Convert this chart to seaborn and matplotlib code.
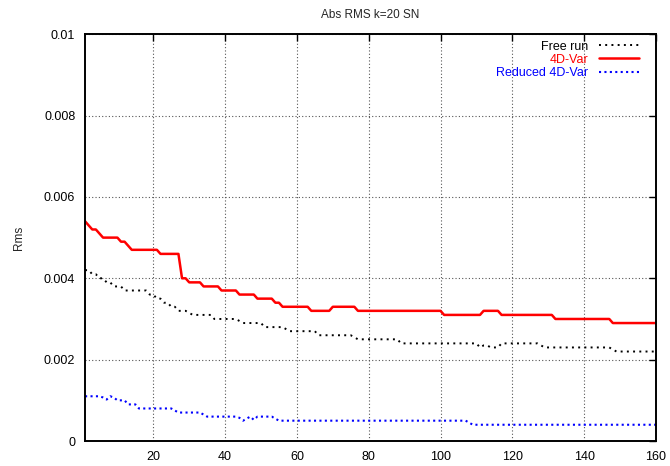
import numpy as np
import pandas as pd
import seaborn as sns
import matplotlib
matplotlib.use("Agg")
import matplotlib.pyplot as plt

# time index
steps = np.arange(1, 161)

# rms values, in units of 1e-4
free_run = [
    42, 42, 41, 41, 40, 40, 39, 39, 38, 38,
    38, 37, 37, 37, 37, 37, 37, 37, 36, 36,
    35, 35, 34, 34, 33, 33, 32, 32, 32, 31.5,
    31, 31, 31, 31, 31, 31, 30, 30, 30, 30,
    30, 30, 30, 29.5, 29, 29, 29, 29, 29, 29,
    28, 28, 28, 28, 28, 28, 27.5, 27, 27, 27,
    27, 27, 27, 27, 27, 26, 26, 26, 26, 26,
    26, 26, 26, 26, 26, 25.5, 25, 25, 25, 25,
    25, 25, 25, 25, 25, 25, 25, 25, 24, 24,
    24, 24, 24, 24, 24, 24, 24, 24, 24, 24,
    24, 24, 24, 24, 24, 24, 24, 24, 24, 24,
    23, 23.5, 23.5, 23, 23, 23, 24, 24, 24, 24,
    24, 24, 24, 24, 24, 24, 24, 23.5, 23, 23,
    23, 23, 23, 23, 23, 23, 23, 23, 23, 23,
    23, 23, 23, 23, 23, 23, 23, 22.5, 22, 22,
    22, 22, 22, 22, 22, 22, 22, 22, 22, 22,
]
var4d = [
    54, 53, 52, 52, 51, 50, 50, 50, 50, 50,
    49, 49, 48, 47, 47, 47, 47, 47, 47, 47,
    47, 46, 46, 46, 46, 46, 46, 40, 40, 39,
    39, 39, 39, 38, 38, 38, 38, 38, 37, 37,
    37, 37, 37, 36, 36, 36, 36, 36, 35, 35,
    35, 35, 35, 34, 34, 33, 33, 33, 33, 33,
    33, 33, 33, 32, 32, 32, 32, 32, 32, 33,
    33, 33, 33, 33, 33, 33, 32, 32, 32, 32,
    32, 32, 32, 32, 32, 32, 32, 32, 32, 32,
    32, 32, 32, 32, 32, 32, 32, 32, 32, 32,
    31, 31, 31, 31, 31, 31, 31, 31, 31, 31,
    31, 32, 32, 32, 32, 32, 31, 31, 31, 31,
    31, 31, 31, 31, 31, 31, 31, 31, 31, 31,
    31, 30, 30, 30, 30, 30, 30, 30, 30, 30,
    30, 30, 30, 30, 30, 30, 30, 29, 29, 29,
    29, 29, 29, 29, 29, 29, 29, 29, 29, 29,
]
reduced_4dvar = [
    11, 11, 11, 11, 11, 10.7, 10.2, 11, 10.7, 10,
    10, 10, 9, 9, 9, 8, 8, 8, 8, 8,
    8, 8, 8, 8, 8, 7.5, 7, 7, 7, 7,
    7, 7, 7, 6.5, 6, 6, 6, 6, 6, 6,
    6, 6, 6, 5.7, 5, 5.5, 6, 5.2, 6, 6,
    6, 6, 6, 5.5, 5, 5, 5, 5, 5, 5,
    5, 5, 5, 5, 5, 5, 5, 5, 5, 5,
    5, 5, 5, 5, 5, 5, 5, 5, 5, 5,
    5, 5, 5, 5, 5, 5, 5, 5, 5, 5,
    5, 5, 5, 5, 5, 5, 5, 5, 5, 5,
    5, 5, 5, 5, 5, 5, 5, 4.5, 4, 4,
    4, 4, 4, 4, 4, 4, 4, 4, 4, 4,
    4, 4, 4, 4, 4, 4, 4, 4, 4, 4,
    4, 4, 4, 4, 4, 4, 4, 4, 4, 4,
    4, 4, 4, 4, 4, 4, 4, 4, 4, 4,
    4, 4, 4, 4, 4, 4, 4, 4, 4, 4,
]

df = pd.DataFrame({
    "step": steps,
    "Free run": np.array(free_run) * 1e-4,
    "4D-Var": np.array(var4d) * 1e-4,
    "Reduced 4D-Var": np.array(reduced_4dvar) * 1e-4,
})

sns.set_style("white")
plt.rcParams["font.family"] = ["Liberation Sans", "DejaVu Sans"]

fig = plt.figure(figsize=(6.7, 4.66), dpi=100)
ax = fig.add_axes([0.127, 0.0536, 0.852, 0.873])

sns.lineplot(data=df, x="step", y="Free run", ax=ax, color="black",
             linewidth=1.4, label="Free run")
ax.lines[-1].set_dashes((1.0, 2.2))
sns.lineplot(data=df, x="step", y="4D-Var", ax=ax, color="#ff0000",
             linewidth=1.8, label="4D-Var")
sns.lineplot(data=df, x="step", y="Reduced 4D-Var", ax=ax, color="#0000ff",
             linewidth=1.5, label="Reduced 4D-Var")
ax.lines[-1].set_dashes((1.0, 1.6))

ax.set_xlim(1, 160)
ax.set_ylim(0, 0.01)
ax.set_xticks(np.arange(20, 161, 20))
ax.set_yticks([0, 0.002, 0.004, 0.006, 0.008, 0.01])
ax.set_yticklabels(["0", "0.002", "0.004", "0.006", "0.008", "0.01"])
ax.tick_params(direction="in", length=5, width=1, top=True, right=True,
               labelsize=9, pad=7, colors="black")
ax.grid(True, linestyle=(0, (1, 2)), color="#555555", linewidth=0.8)
for s in ax.spines.values():
    s.set_color("black")
    s.set_linewidth(1.4)

ax.set_xlabel("")
ax.set_ylabel("Rms", fontsize=8.5, labelpad=14)
ax.set_title("Abs RMS k=20 SN", fontsize=8.5, pad=12)

leg = ax.legend(loc="upper right", bbox_to_anchor=(0.985, 1.006),
                frameon=False, markerfirst=False,
                fontsize=9, handlelength=3.2, handletextpad=0.8,
                labelspacing=0.1, borderaxespad=0.3)
for t, c in zip(leg.get_texts(), ["black", "#ff0000", "#0000ff"]):
    t.set_color(c)

fig.savefig("out.png", dpi=100)
